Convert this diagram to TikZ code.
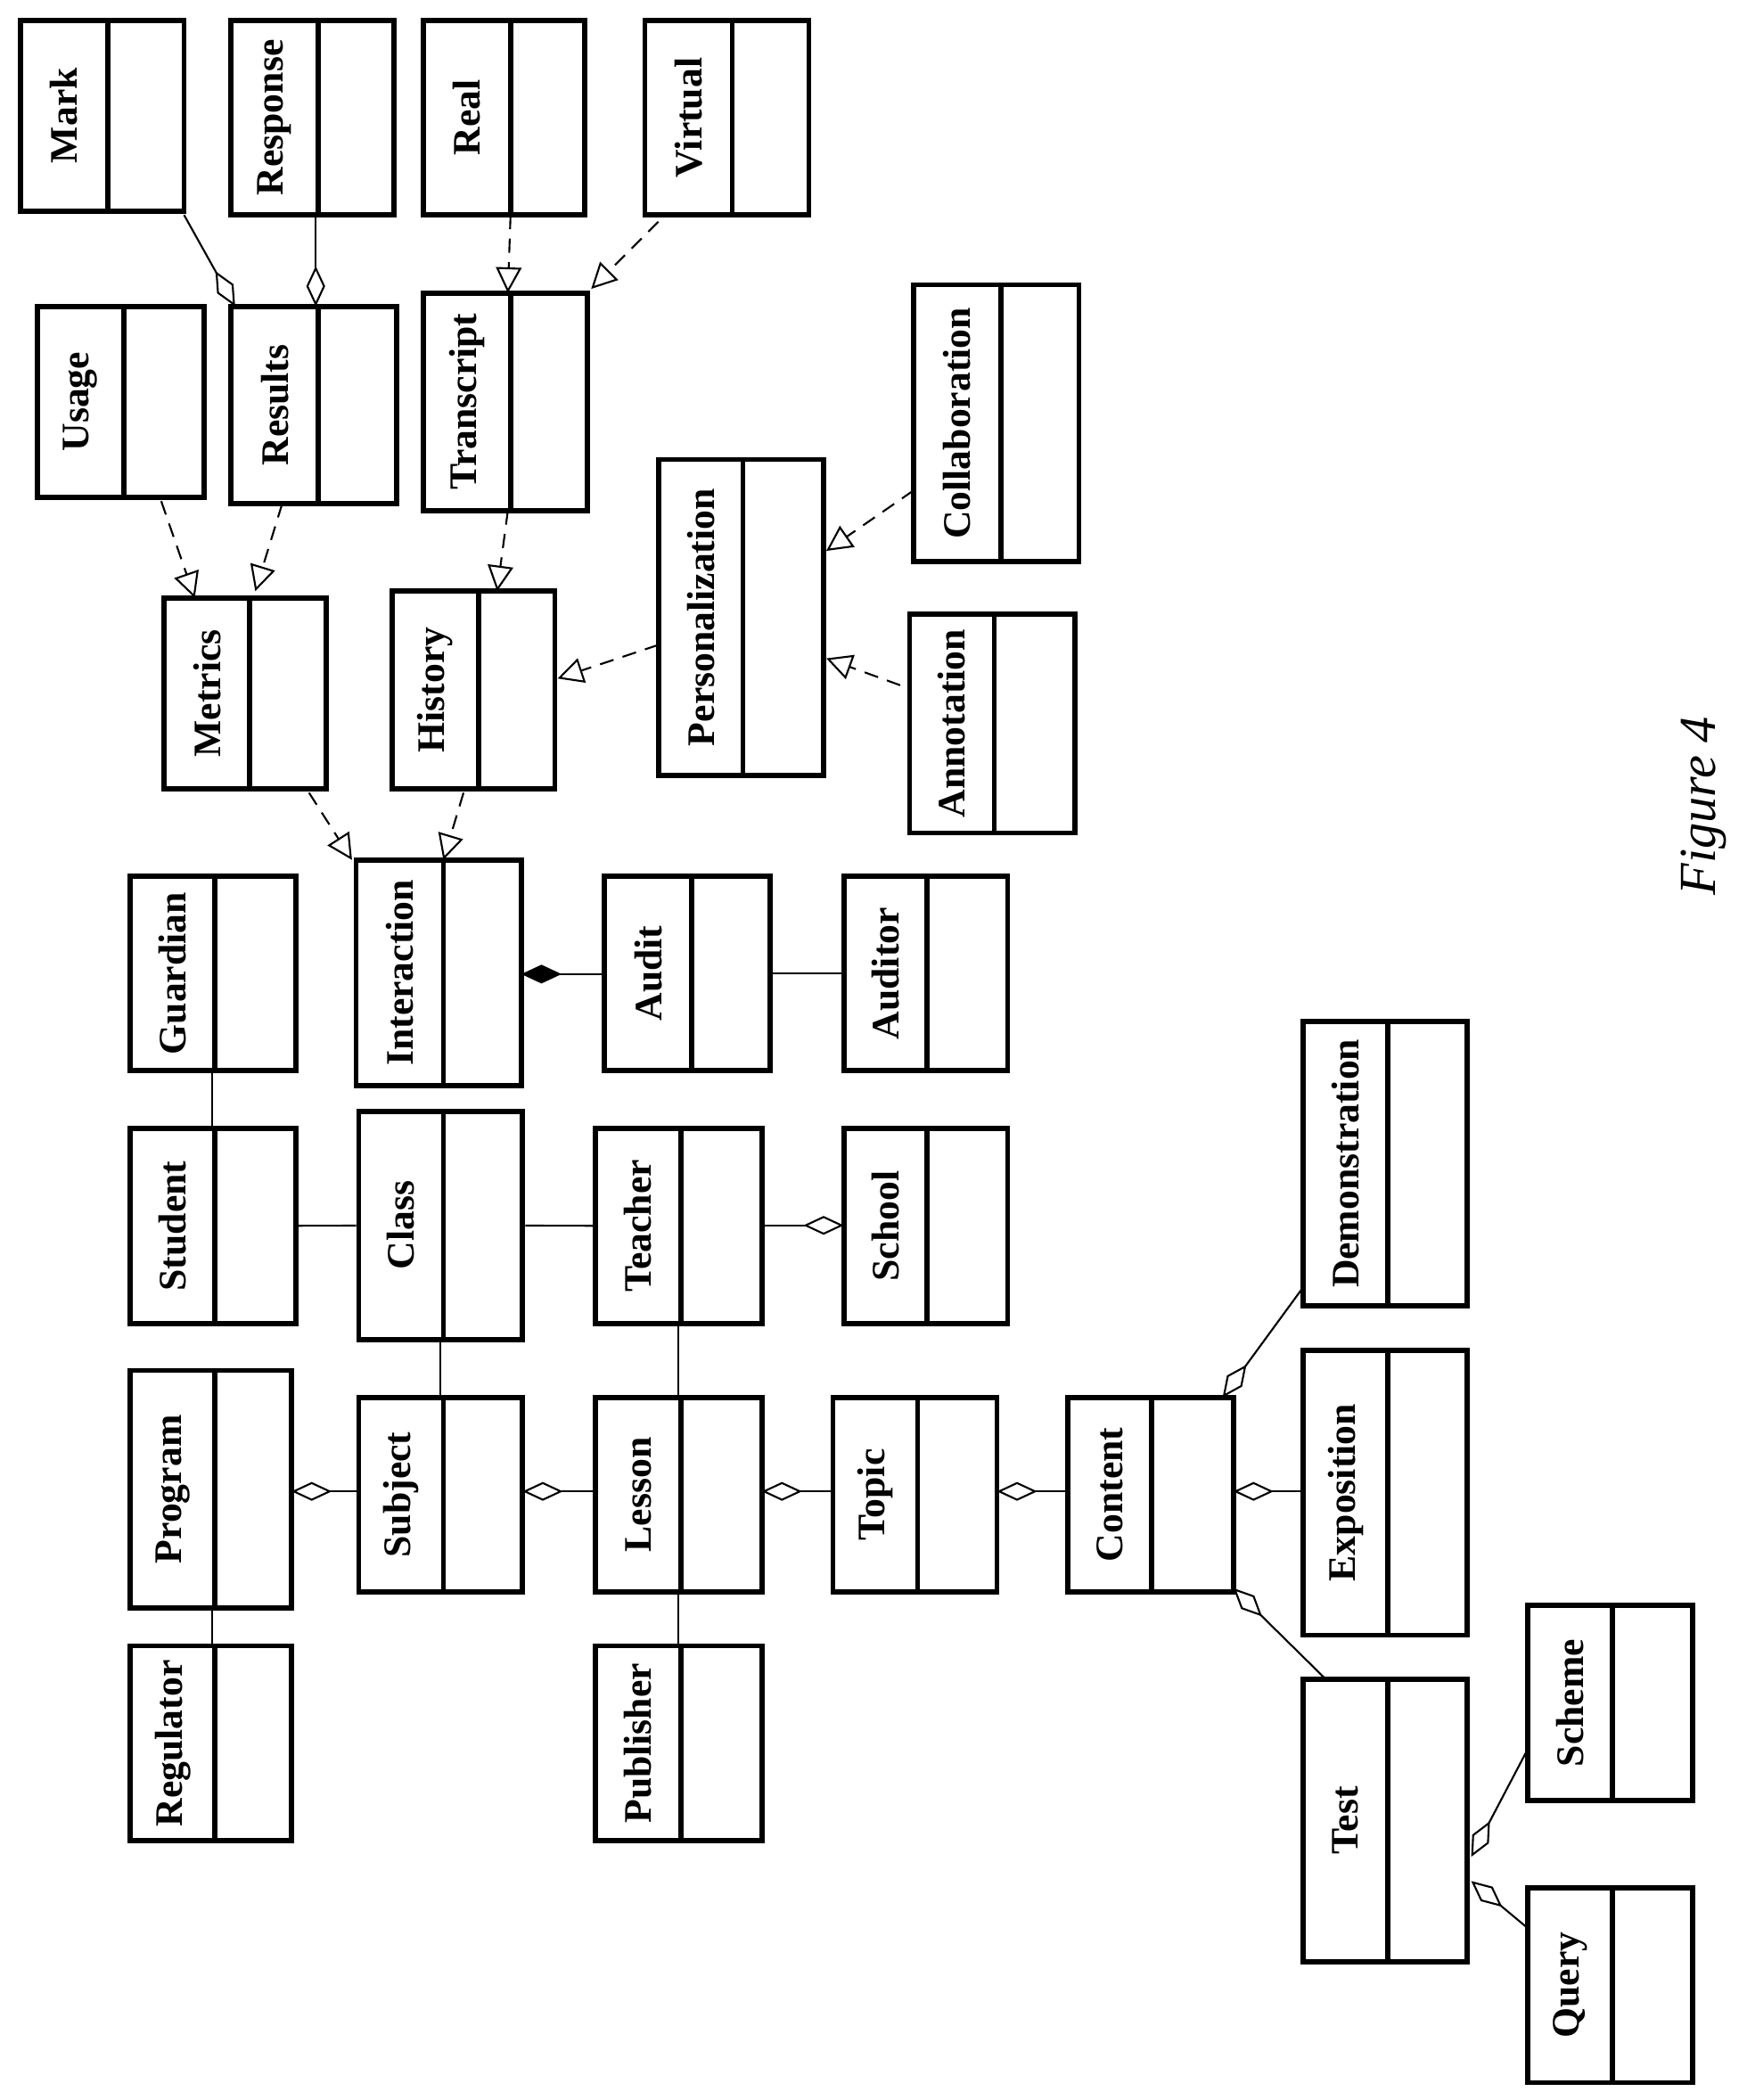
\documentclass[tikz,border=0pt]{standalone}
\usepackage{fontspec}
\setmainfont{Liberation Serif}
\usetikzlibrary{arrows.meta,fit}
\tikzset{
  box/.style={draw,line width=2.2pt,inner sep=0pt},
  lbl/.style={rotate=90,font=\fontsize{16.5}{18}\selectfont\bfseries,inner sep=0pt},
  conn/.style={line width=0.8pt},
  agg/.style={conn,{Diamond[open,length=0.6cm,width=0.28cm]}-},
  comp/.style={conn,{Diamond[length=0.6cm,width=0.28cm]}-},
  dep/.style={conn,dashed,dash pattern=on 6pt off 4pt,-{Triangle[open,length=0.38cm,width=0.38cm]}}
}
\newcommand{\cls}[7]{%
  \node[box,fit={(#3,#4)(#5,#6)}] (#1) {};
  \draw[line width=2.2pt] (#7,#4) -- (#7,#6);
  \node[lbl] at ({(#3+#7)/2},{(#4+#6)/2}) {#2};
}
\begin{document}
\begin{tikzpicture}[x=0.02cm,y=-0.02cm]
\useasboundingbox (0,0) rectangle (1300,1563);
\cls{mark}{Mark}{15}{15}{137}{157}{80}
\cls{response}{Response}{172}{15}{293}{160}{237}
\cls{real}{Real}{315}{15}{435}{160}{380}
\cls{virtual}{Virtual}{480}{15}{602}{160}{545}
\cls{usage}{Usage}{28}{228}{152}{370}{92}
\cls{results}{Results}{172}{228}{295}{375}{237}
\cls{transcript}{Transcript}{315}{218}{437}{380}{380}
\cls{collab}{Collaboration}{680}{212}{803}{418}{745}
\cls{person}{Personalization}{490}{342}{613}{577}{553}
\cls{metrics}{Metrics}{122}{445}{243}{587}{186}
\cls{history}{History}{292}{440}{413}{587}{356}
\cls{annot}{Annotation}{677}{457}{800}{620}{740}
\cls{guardian}{Guardian}{97}{652}{220}{797}{160}
\cls{interaction}{Interaction}{265}{640}{388}{808}{330}
\cls{audit}{Audit}{450}{652}{573}{797}{515}
\cls{auditor}{Auditor}{628}{652}{750}{797}{690}
\cls{demo}{Demonstration}{970}{760}{1092}{972}{1033}
\cls{student}{Student}{97}{840}{220}{985}{160}
\cls{class}{Class}{267}{827}{389}{997}{330}
\cls{teacher}{Teacher}{443}{840}{567}{985}{507}
\cls{school}{School}{628}{840}{750}{985}{690}
\cls{program}{Program}{97}{1020}{217}{1197}{160}
\cls{subject}{Subject}{267}{1040}{389}{1185}{330}
\cls{lesson}{Lesson}{443}{1040}{567}{1185}{507}
\cls{topic}{Topic}{620}{1040}{742}{1185}{683}
\cls{content}{Content}{795}{1040}{918}{1185}{857}
\cls{expo}{Exposition}{970}{1005}{1092}{1217}{1033}
\cls{scheme}{Scheme}{1137}{1195}{1260}{1340}{1200}
\cls{regulator}{Regulator}{97}{1225}{217}{1370}{160}
\cls{publisher}{Publisher}{443}{1225}{567}{1370}{507}
\cls{test}{Test}{970}{1250}{1092}{1460}{1033}
\cls{query}{Query}{1137}{1405}{1260}{1550}{1200}
\node[rotate=90,font=\fontsize{22}{24}\selectfont\itshape] (fig) at (1268,600) {Figure 4};
% aggregations
\draw[agg] (175,228) -- (137,160);
\draw[agg] (235,228) -- (235,160);
\draw[agg] (217,1110) -- (267,1110);
\draw[agg] (389,1110) -- (443,1110);
\draw[agg] (567,1110) -- (620,1110);
\draw[agg] (742,1110) -- (795,1110);
\draw[agg] (918,1110) -- (970,1110);
\draw[agg] (910,1040) -- (970,958);
\draw[agg] (918,1182) -- (987,1250);
\draw[agg] (628,912) -- (567,912);
\draw[agg] (1095,1382) -- (1137,1302);
\draw[agg] (1095,1400) -- (1137,1435);
\draw[comp] (388,725) -- (450,725);
% plain
\draw[conn] (audit) -- (auditor);
\draw[conn] (158,797) -- (158,840);
\draw[conn] (student) -- (class);
\draw[conn] (class) -- (teacher);
\draw[conn] (328,997) -- (328,1040);
\draw[conn] (505,985) -- (505,1040);
\draw[conn] (158,1197) -- (158,1225);
\draw[conn] (505,1185) -- (505,1225);
% dependencies
\draw[dep] (380,160) -- (378,218);
\draw[dep] (490,165) -- (440,215);
\draw[dep] (120,373) -- (145,445);
\draw[dep] (210,375) -- (190,440);
\draw[dep] (378,380) -- (370,440);
\draw[dep] (680,365) -- (615,410);
\draw[dep] (670,510) -- (615,490);
\draw[dep] (490,480) -- (415,505);
\draw[dep] (230,590) -- (262,640);
\draw[dep] (345,590) -- (330,640);
\end{tikzpicture}
\end{document}
